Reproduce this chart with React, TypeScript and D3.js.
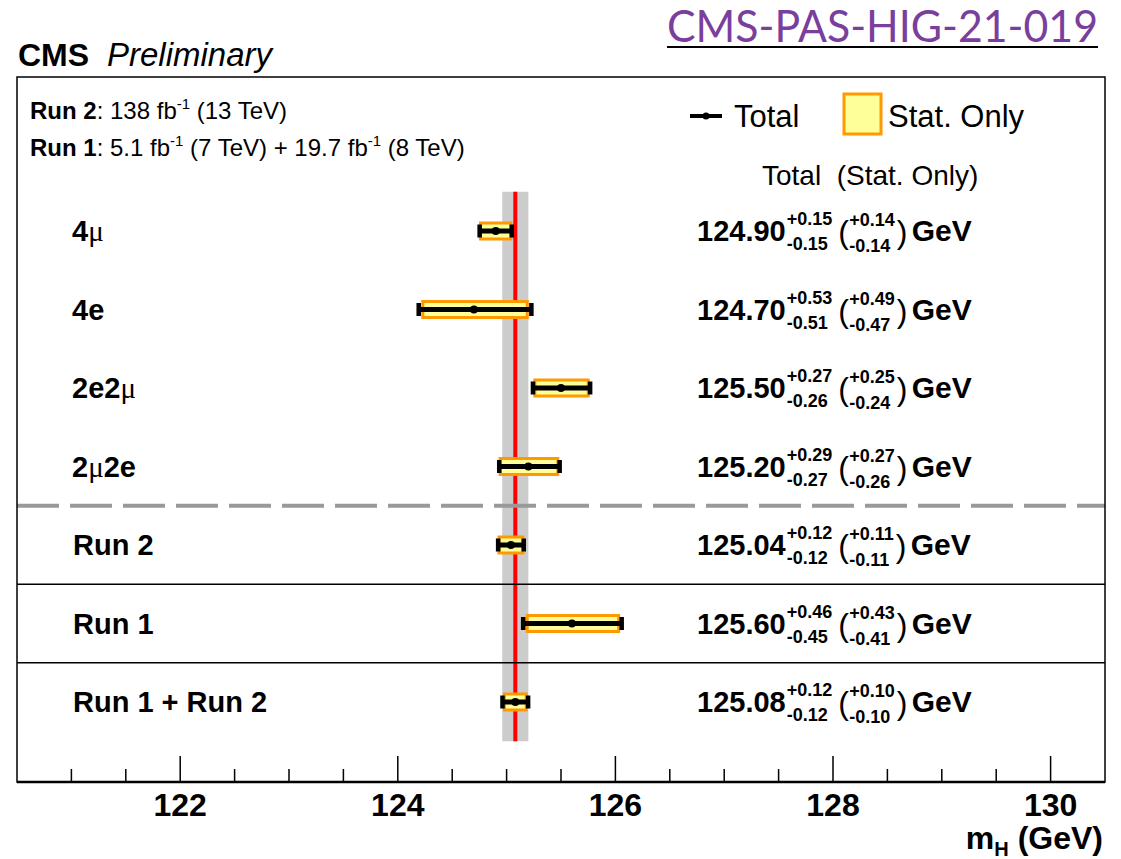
import React from "react";
import * as d3 from "d3";

const names = ["4μ", "4e", "2e2μ", "2μ2e", "Run 2", "Run 1", "Run 1 + Run 2"];
const central = [124.9, 124.7, 125.5, 125.2, 125.04, 125.6, 125.08];
const totUp = [0.15, 0.53, 0.27, 0.29, 0.12, 0.46, 0.12];
const totDn = [0.15, 0.51, 0.26, 0.27, 0.12, 0.45, 0.12];
const statUp = [0.14, 0.49, 0.25, 0.27, 0.11, 0.43, 0.1];
const statDn = [0.14, 0.47, 0.24, 0.26, 0.11, 0.41, 0.1];
const majorTicks = [122, 124, 126, 128, 130];
const minorTicks = d3.range(121, 130.01, 0.5).filter((t) => !majorTicks.includes(t));
const combined = { value: 125.08, up: 0.12, dn: 0.12 };

const SANS = "Liberation Sans, Arial, Helvetica, sans-serif";
const SERIF = "Liberation Serif, Times New Roman, serif";

let ctx: CanvasRenderingContext2D | null = null;
function measure(text: string, font: string): number {
  if (!ctx) ctx = document.createElement("canvas").getContext("2d");
  if (!ctx) return text.length * 10;
  ctx.font = font;
  return ctx.measureText(text).width;
}

function Label({ name, x, y }: { name: string; x: number; y: number }) {
  const parts = name.split(/(μ)/).filter((p) => p.length > 0);
  return (
    <text x={x} y={y} fontSize={29}>
      {parts.map((p, i) =>
        p === "μ" ? (
          <tspan key={i} fontFamily={SERIF} fontWeight="normal">μ</tspan>
        ) : (
          <tspan key={i} fontFamily={SANS} fontWeight="bold">{p}</tspan>
        )
      )}
    </text>
  );
}

function ValueText({ i, x0, cy }: { i: number; x0: number; cy: number }) {
  const main = central[i].toFixed(2);
  const fMain = `bold 29px ${SANS}`;
  const fSmall = `bold 18px ${SANS}`;
  const w1 = measure(main, fMain);
  const su = "+" + totUp[i].toFixed(2);
  const sd = "-" + totDn[i].toFixed(2);
  const w2 = Math.max(measure(su, fSmall), measure(sd, fSmall));
  const px = x0 + w1 + w2 + 7;
  const ss = "+" + statUp[i].toFixed(2);
  const sdn = "-" + statDn[i].toFixed(2);
  const w3 = Math.max(measure(ss, fSmall), measure(sdn, fSmall));
  const sx = px + 11;
  const cx = sx + w3 + 2;
  return (
    <g fill="#000">
      <text x={x0} y={cy + 10} fontFamily={SANS} fontWeight="bold" fontSize={29}>{main}</text>
      <text x={x0 + w1 + 1} y={cy - 6} fontFamily={SANS} fontWeight="bold" fontSize={18}>{su}</text>
      <text x={x0 + w1 + 1} y={cy + 19} fontFamily={SANS} fontWeight="bold" fontSize={18}>{sd}</text>
      <text x={px} y={cy + 12} fontFamily={SANS} fontWeight="normal" fontSize={32}>(</text>
      <text x={sx} y={cy - 5} fontFamily={SANS} fontWeight="bold" fontSize={18}>{ss}</text>
      <text x={sx} y={cy + 21} fontFamily={SANS} fontWeight="bold" fontSize={18}>{sdn}</text>
      <text x={cx} y={cy + 12} fontFamily={SANS} fontWeight="normal" fontSize={32}>)</text>
      <text x={cx + 15} y={cy + 10} fontFamily={SANS} fontWeight="bold" fontSize={30}>GeV</text>
    </g>
  );
}

export default function App() {
  const W = 1121;
  const H = 859;
  const left = 17;
  const right = 1105;
  const top = 77;
  const bottom = 782;
  const x = d3.scaleLinear().domain([120.5, 130.5]).range([left, right]);
  const y = d3.scaleLinear().domain([0, 6]).range([231, 702]);

  return (
    <svg
      width={W}
      height={H}
      style={{ position: "absolute", left: 0, top: 0, background: "#fff" }}
      fontFamily={SANS}
    >
      <rect x={0} y={0} width={W} height={H} fill="#fff" />
      {/* Title */}
      <text x={667} y={42} fill="#7a3e9d" fontFamily="Lato, Open Sans, sans-serif" fontSize={44}
        textLength={431} lengthAdjust="spacingAndGlyphs">CMS-PAS-HIG-21-019</text>
      <line x1={667} x2={1098} y1={47} y2={47} stroke="#000" strokeWidth={2} />
      {/* CMS Preliminary */}
      <text x={18} y={66} fontSize={32} fontWeight="bold">CMS</text>
      <text x={107} y={66} fontSize={33} fontStyle="italic">Preliminary</text>

      {/* gray band */}
      <rect x={x(combined.value - combined.dn)} y={y(-0.5)} width={x(combined.value + combined.up) - x(combined.value - combined.dn)}
        height={y(6.5) - y(-0.5)} fill="#cccccc" />
      <line x1={x(combined.value)} x2={x(combined.value)} y1={y(-0.5)} y2={y(6.5)} stroke="#ff0000" strokeWidth={4} />

      {/* separators */}
      <line x1={left} x2={right} y1={y(3.5)} y2={y(3.5)} stroke="#999" strokeWidth={4} strokeDasharray="42 11" />
      <line x1={left} x2={right} y1={y(4.5)} y2={y(4.5)} stroke="#000" strokeWidth={1.5} />
      <line x1={left} x2={right} y1={y(5.5)} y2={y(5.5)} stroke="#000" strokeWidth={1.5} />

      {/* rows */}
      {names.map((n, i) => {
        const cy = y(i);
        const c = central[i];
        const xl = x(c - totDn[i]);
        const xr = x(c + totUp[i]);
        const sl = x(c - statDn[i]);
        const sr = x(c + statUp[i]);
        return (
          <g key={n}>
            <rect x={sl} y={cy - 8} width={sr - sl} height={16} fill="#ffff99" stroke="#ff9900" strokeWidth={3} />
            <line x1={xl} x2={xr} y1={cy} y2={cy} stroke="#000" strokeWidth={5} />
            <rect x={xl - 2} y={cy - 6.5} width={4.5} height={13} fill="#000" />
            <rect x={xr - 2.5} y={cy - 6.5} width={4.5} height={13} fill="#000" />
            <circle cx={x(c)} cy={cy} r={4} fill="#000" />
            <Label name={n} x={n.startsWith("Run") ? 73 : 72} y={cy + 10} />
            <ValueText i={i} x0={697} cy={cy} />
          </g>
        );
      })}

      {/* header */}
      <text x={30} y={119} fontSize={24}>
        <tspan fontWeight="bold">Run 2</tspan>
        <tspan>: 138 fb</tspan>
        <tspan fontSize={15} dy={-10}>-1</tspan>
        <tspan dy={10}> (13 TeV)</tspan>
      </text>
      <text x={30} y={156} fontSize={24}>
        <tspan fontWeight="bold">Run 1</tspan>
        <tspan>: 5.1 fb</tspan>
        <tspan fontSize={15} dy={-10}>-1</tspan>
        <tspan dy={10}> (7 TeV) + 19.7 fb</tspan>
        <tspan fontSize={15} dy={-10}>-1</tspan>
        <tspan dy={10}> (8 TeV)</tspan>
      </text>

      {/* legend */}
      <line x1={690} x2={722} y1={116} y2={116} stroke="#000" strokeWidth={4} />
      <circle cx={706} cy={116} r={3.5} fill="#000" />
      <text x={734} y={127} fontSize={31}>Total</text>
      <rect x={844} y={94} width={37} height={40} fill="#ffff99" stroke="#ff9900" strokeWidth={3} />
      <text x={888} y={127} fontSize={31}>Stat. Only</text>
      <text x={762} y={185} fontSize={28} style={{ whiteSpace: "pre" }}>{"Total  (Stat. Only)"}</text>

      {/* frame */}
      <rect x={left} y={top} width={right - left} height={bottom - top} fill="none" stroke="#000" strokeWidth={1.5} />
      <line x1={left} x2={right} y1={bottom} y2={bottom} stroke="#000" strokeWidth={2.5} />

      {/* ticks */}
      {majorTicks.map((t) => (
        <g key={"M" + t}>
          <line x1={x(t)} x2={x(t)} y1={bottom} y2={bottom - 26} stroke="#000" strokeWidth={1.5} />
          <text x={x(t)} y={816} textAnchor="middle" fontWeight="bold" fontSize={32}>{t}</text>
        </g>
      ))}
      {minorTicks.map((t) => (
        <line key={"m" + t} x1={x(t)} x2={x(t)} y1={bottom} y2={bottom - 13} stroke="#000" strokeWidth={1.5} />
      ))}
      <text x={1103} y={849} textAnchor="end" fontWeight="bold" fontSize={32}>
        <tspan>m</tspan>
        <tspan fontSize={20} dy={7}>H</tspan>
        <tspan dy={-7}> (GeV)</tspan>
      </text>
    </svg>
  );
}
